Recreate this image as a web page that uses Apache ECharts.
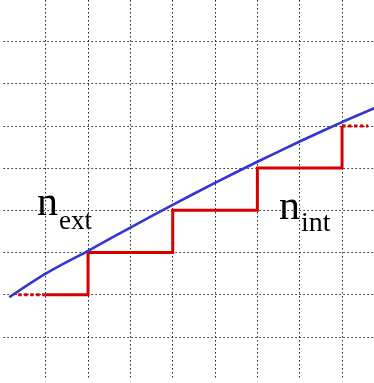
<!DOCTYPE html>
<html>
<head>
<meta charset="utf-8">
<script src="https://cdn.jsdelivr.net/npm/echarts@6/dist/echarts.min.js"></script>
<style>
html,body{margin:0;padding:0;background:#fff;}
#c{width:374px;height:383px;}
</style>
</head>
<body>
<div id="c"></div>
<script>
// Staircase (n_int) corner points
const stepX = [1, 2, 2, 4, 4, 6, 6, 8, 8];
const stepY = [2, 2, 3, 3, 4, 4, 5, 5, 6];
// Dotted extensions of the staircase
const dotLeftX = [0.35, 1];
const dotLeftY = [2, 2];
const dotRightX = [8, 8.62];
const dotRightY = [6, 6];
// Smooth curve (n_ext)
const curveX = [0.14, 1, 2, 3, 4, 5, 6, 7, 8, 8.76];
const curveY = [1.94, 2.50, 3.04, 3.59, 4.13, 4.65, 5.15, 5.63, 6.09, 6.42];
// Labels
const labelMain = ['n', 'n'];
const labelSub = ['ext', 'int'];

const zip = (xs, ys) => xs.map((x, i) => [x, ys[i]]);

const chart = echarts.init(document.getElementById('c'), null, {renderer: 'canvas'});
const gridDash = {color: '#222', width: 1, type: [1.5, 2.5]};
const font = '"Liberation Serif", "Times New Roman", serif';

chart.setOption({
  animation: false,
  backgroundColor: '#fff',
  grid: {left: 3.37, right: 0, top: 0, bottom: 3.9, containLabel: false},
  xAxis: {
    type: 'value', min: 0, max: 8.755, interval: 1,
    axisLine: {show: false}, axisTick: {show: false}, axisLabel: {show: false},
    splitLine: {show: true, showMinLine: false, showMaxLine: false, lineStyle: gridDash}
  },
  yAxis: {
    type: 'value', min: 0, max: 8.983, interval: 1,
    axisLine: {show: false}, axisTick: {show: false}, axisLabel: {show: false},
    splitLine: {show: true, showMinLine: false, showMaxLine: false, lineStyle: gridDash}
  },
  series: [
    {type: 'line', data: zip(curveX, curveY), smooth: 0.3, symbol: 'none',
     lineStyle: {color: '#3535d2', width: 2.6}, z: 3},
    {type: 'line', data: zip(stepX, stepY), symbol: 'none',
     lineStyle: {color: '#d40000', width: 3, cap: 'butt', join: 'miter'}, z: 2},
    {type: 'line', data: zip(dotLeftX, dotLeftY), symbol: 'none',
     lineStyle: {color: '#d40000', width: 3, type: [3.5, 2.5]}, z: 2},
    {type: 'line', data: zip(dotRightX, dotRightY), symbol: 'none',
     lineStyle: {color: '#d40000', width: 3, type: [3.5, 2.5]}, z: 2}
  ],
  graphic: [
    {type: 'text', left: 37, top: 183, style: {text: labelMain[0], font: '42px ' + font, fill: '#000'}},
    {type: 'text', left: 59, top: 208, style: {text: labelSub[0], font: '27px ' + font, fill: '#000'}},
    {type: 'text', left: 279, top: 187, style: {text: labelMain[1], font: '42px ' + font, fill: '#000'}},
    {type: 'text', left: 301, top: 210, style: {text: labelSub[1], font: '28px ' + font, fill: '#000'}}
  ]
});
</script>
</body>
</html>
